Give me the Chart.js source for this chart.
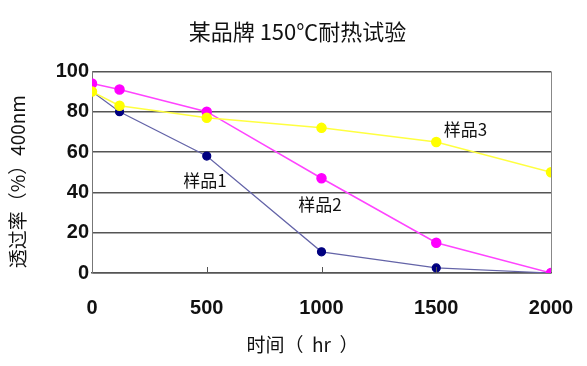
<!DOCTYPE html>
<html>
<head>
<meta charset="utf-8">
<script src="https://cdn.jsdelivr.net/npm/chart.js@4"></script>
<style>
  html, body { margin: 0; padding: 0; background: #fff; }
  #wrap { width: 587px; height: 366px; }
</style>
</head>
<body>
<div id="wrap"><canvas id="myChart"></canvas></div>
<script>
const hours = [0, 120, 500, 1000, 1500, 2000]
const sample1 = [90, 80, 58, 10.5, 2.5, 0]
const sample2 = [94, 91, 80, 47, 15, 0]
const sample3 = [90, 83, 77, 72, 65, 50]
const seriesNames = ['样品1', '样品2', '样品3']
const xTicks = [0, 500, 1000, 1500, 2000]
const yTicks = [0, 20, 40, 60, 80, 100]
// where the series names sit, in data units
const nameSpots = [[492, 46], [993, 34], [1627, 71]]

const cjk = '"Noto Sans CJK SC", "Noto Sans", sans-serif'
const digits = 'Liberation Sans, Arial, sans-serif'

function pts(ys) {
  return hours.map((h, i) => ({ x: h, y: ys[i] }))
}

const seriesLabels = {
  id: 'seriesLabels',
  afterDatasetsDraw(chart) {
    const { ctx, scales: { x, y } } = chart
    ctx.save()
    ctx.font = '17px ' + cjk
    ctx.fillStyle = '#111'
    ctx.textAlign = 'center'
    ctx.textBaseline = 'middle'
    seriesNames.forEach((name, i) => {
      ctx.fillText(name, x.getPixelForValue(nameSpots[i][0]), y.getPixelForValue(nameSpots[i][1]))
    })
    // small tick marks pointing up from the x axis
    ctx.strokeStyle = '#555'
    ctx.lineWidth = 1
    const yb = y.getPixelForValue(0)
    xTicks.slice(1, -1).forEach(v => {
      const px = Math.round(x.getPixelForValue(v)) + 0.5
      ctx.beginPath()
      ctx.moveTo(px, yb)
      ctx.lineTo(px, yb - 6)
      ctx.stroke()
    })
    ctx.restore()
  }
}

const ctx = document.getElementById('myChart')

const myChart = new Chart(ctx, {
  type: 'line',
  data: {
    datasets: [
      {
        label: seriesNames[2],
        data: pts(sample3),
        borderColor: '#ffff40',
        backgroundColor: '#ffff00',
        pointBackgroundColor: '#ffff00',
        pointBorderColor: '#ffff00',
        borderWidth: 1.5,
        pointRadius: 4.5
      },
      {
        label: seriesNames[1],
        data: pts(sample2),
        borderColor: '#ff44ff',
        backgroundColor: '#ff00ff',
        pointBackgroundColor: '#ff00ff',
        pointBorderColor: '#ff00ff',
        borderWidth: 1.5,
        pointRadius: 4.5
      },
      {
        label: seriesNames[0],
        data: pts(sample1),
        borderColor: '#6464a8',
        backgroundColor: '#000080',
        pointBackgroundColor: '#000080',
        pointBorderColor: '#000080',
        borderWidth: 1.2,
        pointRadius: 4
      }
    ]
  },
  options: {
    responsive: true,
    maintainAspectRatio: false,
    animation: false,
    layout: { padding: { left: 0, right: 36, top: 0, bottom: 0 } },
    plugins: {
      legend: { display: false },
      tooltip: { enabled: false },
      title: {
        display: true,
        text: '\u3000\u2002\u2002某品牌 150℃耐热试验',
        color: '#111',
        font: { family: cjk, size: 22, weight: 'normal' },
        padding: { top: 18, bottom: 27 }
      }
    },
    scales: {
      x: {
        type: 'linear',
        min: 0,
        max: 2000,
        afterBuildTicks: s => { s.ticks = xTicks.map(v => ({ value: v })) },
        afterFit: s => { s.height = 93 },
        ticks: {
          color: '#111',
          padding: 3,
          maxRotation: 0,
          callback: v => String(v),
          font: { family: digits, size: 20, weight: 'bold' }
        },
        grid: {
          drawTicks: true,
          tickLength: 20,
          tickColor: 'rgba(0,0,0,0)',
          color: c => c.tick && c.tick.value === 2000 ? '#888' : 'rgba(0,0,0,0)',
          lineWidth: 1
        },
        border: { display: true, color: '#555', width: 1.5 },
        title: {
          display: true,
          text: '时间（  hr  ）\u3000\u3000\u2002',
          color: '#111',
          font: { family: cjk, size: 19, weight: 'normal' },
          padding: { top: 4, bottom: 10 }
        }
      },
      y: {
        min: 0,
        max: 100,
        afterBuildTicks: s => { s.ticks = yTicks.map(v => ({ value: v })) },
        afterFit: s => { s.width = 92 },
        ticks: {
          color: '#111',
          padding: 3,
          font: { family: digits, size: 20, weight: 'bold' }
        },
        grid: {
          drawTicks: false,
          color: '#555',
          lineWidth: 1.5
        },
        border: { display: true, color: '#777', width: 1 },
        title: {
          display: true,
          text: '透过率（%）400nm\u3000',
          color: '#111',
          font: { family: cjk, size: 19, weight: 'normal' },
          padding: { top: 6, bottom: 4 }
        }
      }
    }
  },
  plugins: [seriesLabels]
})
</script>
</body>
</html>
